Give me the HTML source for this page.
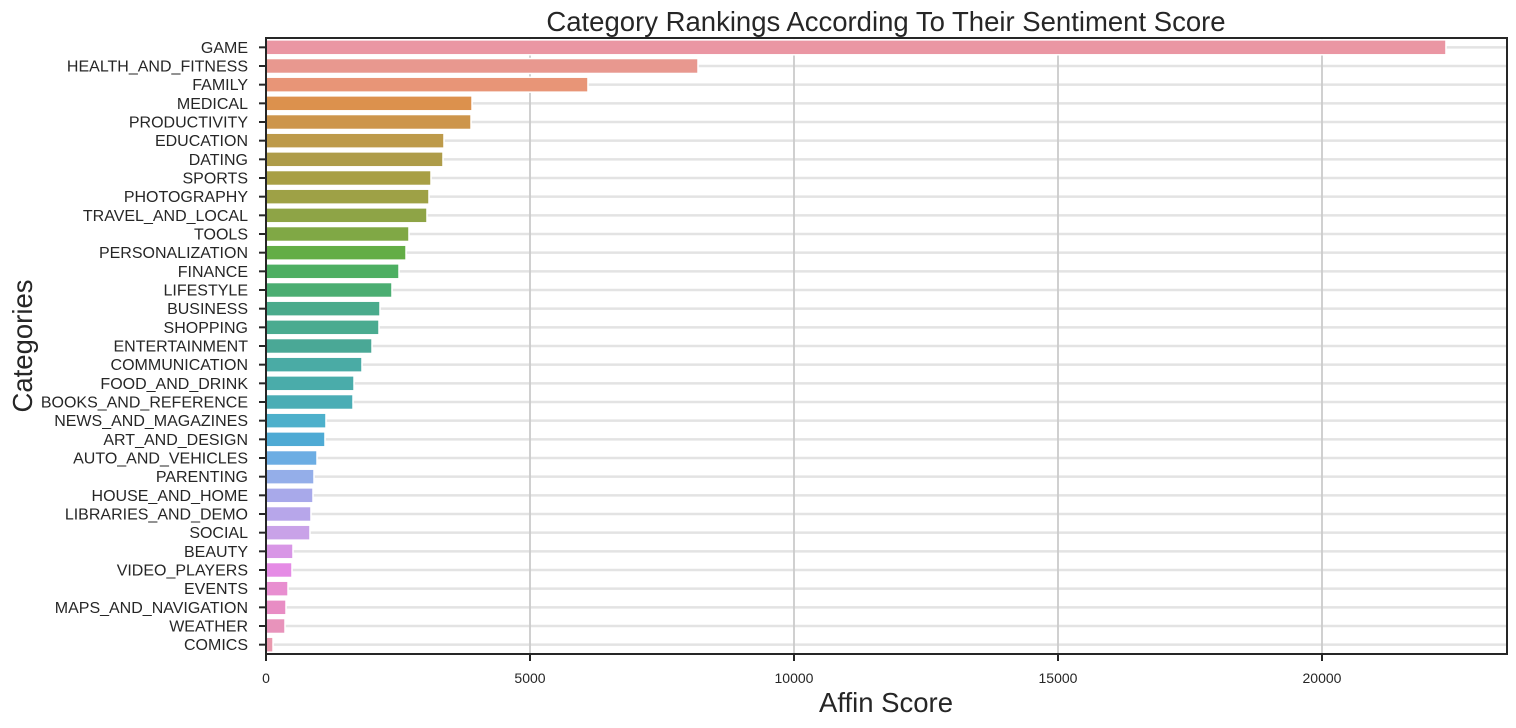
<!DOCTYPE html>
<html><head><meta charset="utf-8"><style>
html,body{margin:0;padding:0;background:#fff;width:1516px;height:728px;overflow:hidden}
svg text{font-family:"Liberation Sans",Arial,sans-serif;fill:#262626}
</style></head><body>
<svg id="chart" width="1516" height="728" xmlns="http://www.w3.org/2000/svg">
<text x="886" y="31" font-size="27.5" text-anchor="middle">Category Rankings According To Their Sentiment Score</text>
<text x="886" y="712" font-size="27.5" text-anchor="middle">Affin Score</text>
<text transform="translate(32,346) rotate(-90)" font-size="27.5" text-anchor="middle">Categories</text>
<g id="grid"></g><g id="bars"></g><g id="axes"></g>
</svg>
<script>
const categories=["GAME","HEALTH_AND_FITNESS","FAMILY","MEDICAL","PRODUCTIVITY","EDUCATION","DATING","SPORTS","PHOTOGRAPHY","TRAVEL_AND_LOCAL","TOOLS","PERSONALIZATION","FINANCE","LIFESTYLE","BUSINESS","SHOPPING","ENTERTAINMENT","COMMUNICATION","FOOD_AND_DRINK","BOOKS_AND_REFERENCE","NEWS_AND_MAGAZINES","ART_AND_DESIGN","AUTO_AND_VEHICLES","PARENTING","HOUSE_AND_HOME","LIBRARIES_AND_DEMO","SOCIAL","BEAUTY","VIDEO_PLAYERS","EVENTS","MAPS_AND_NAVIGATION","WEATHER","COMICS"];
const scores=[22348,8182,6098,3902,3883,3371,3352,3125,3087,3049,2708,2652,2519,2386,2159,2140,2008,1818,1667,1648,1136,1117,966,909,890,852,833,511,492,417,379,360,133];
const xTicks=[0,5000,10000,15000,20000];
const xTickLabels=["0","5000","10000","15000","20000"];
const colors=["#ea96a3","#e8988f","#e89577","#dc914d","#cd954b","#bd9a4a","#ae9c49","#a89f45","#9ea146","#8ea446","#80a845","#63ad46","#4daf62","#4bae72","#4aab8c","#4aab90","#4aa896","#4aaba5","#4aacaa","#4aadb5","#4db0cb","#4eaad4","#6cade3","#94aee9","#a8a9ea","#b7a6ea","#c9a2e8","#d896e6","#e58be5","#e88ed0","#e88dc4","#e893bb","#e999ae"];
const L=266,R=1507,T=38,B=654,XMAX=23504;
const NS="http://www.w3.org/2000/svg";
const x=v=>L+(v/XMAX)*(R-L);
const band=(B-T)/categories.length;
const yc=i=>T+band*(i+0.5);
function mk(tag,attrs,parent){const e=document.createElementNS(NS,tag);for(const k in attrs)e.setAttribute(k,attrs[k]);parent.appendChild(e);return e;}
const grid=document.getElementById('grid'),bars=document.getElementById('bars'),axes=document.getElementById('axes');
categories.forEach((c,i)=>{
  const g=mk('line',{x1:L,x2:R,y1:yc(i),y2:yc(i),stroke:'#e3e3e3','stroke-width':2.5},grid);
  
  
});
xTicks.forEach(t=>{
  const g=mk('line',{x1:x(t),x2:x(t),y1:T,y2:B,stroke:'#cbcbcb','stroke-width':1.8},grid);
  
  
});
const bh=band*0.8;
scores.forEach((v,i)=>{
  const r=mk('rect',{x:x(0),y:yc(i)-bh/2,width:x(v)-x(0),height:bh,fill:colors[i],stroke:'#fff','stroke-width':1.5},bars);
  
  
});
categories.forEach((c,i)=>{
  const tk=mk('line',{x1:L-7,x2:L,y1:yc(i),y2:yc(i),stroke:'#262626','stroke-width':2},axes);
  
  
  const t=mk('text',{x:L-18,y:yc(i)+5.5,'font-size':16,'text-anchor':'end'},axes);
  t.textContent=c;
  
  
});
xTicks.forEach((v,i)=>{
  const tk=mk('line',{x1:x(v),x2:x(v),y1:B,y2:B+7,stroke:'#262626','stroke-width':2},axes);
  
  
  const t=mk('text',{x:x(v),y:B+29,'font-size':14,'text-anchor':'middle'},axes);
  t.textContent=xTickLabels[i];
  
  
});
const frame=mk('rect',{x:L,y:T,width:R-L,height:B-T,fill:'none',stroke:'#262626','stroke-width':2},axes);


</script>
</body></html>
